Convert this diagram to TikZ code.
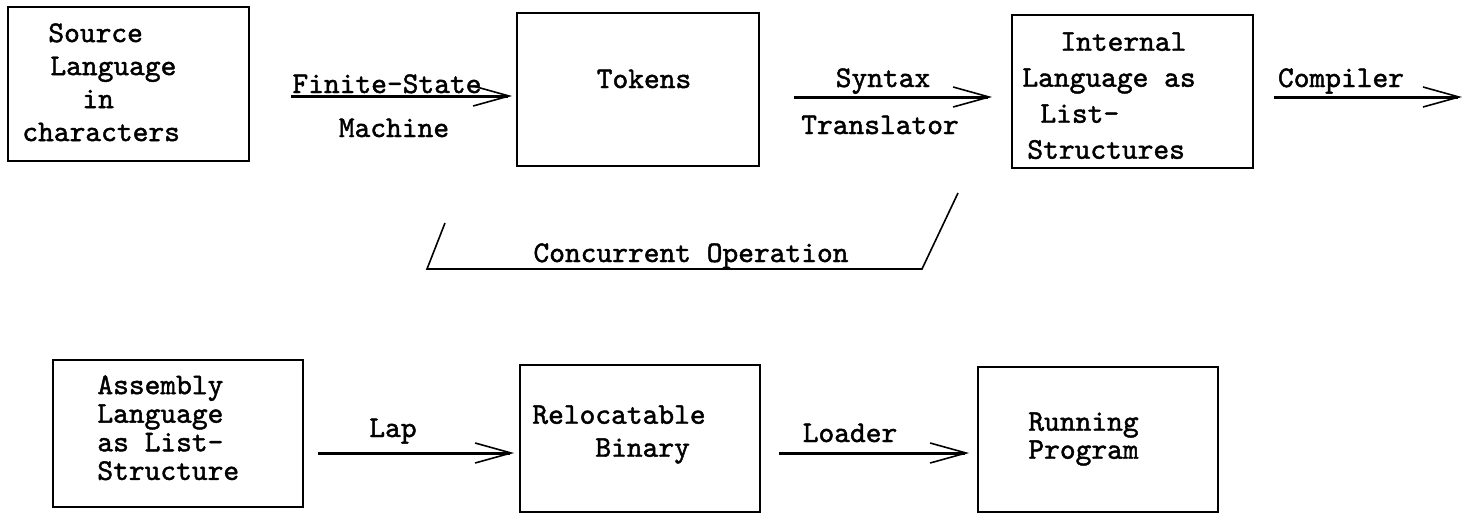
\documentclass[tikz,border=0pt]{standalone}
\usepackage{fontspec}
\usetikzlibrary{arrows.meta,calc}
% typewriter face, slightly heavier like a ribbon impression
\newfontfamily\typer{lmmono10-regular.otf}[FakeBold=1.5]
\begin{document}
\begin{tikzpicture}[x=0.5pt,y=-0.5pt,
  box/.style={draw,line width=0.9pt,inner sep=0pt},
  txt/.style={font=\fontsize{15}{#1}\selectfont\typer,inner sep=0pt,align=left},
  txt/.default=16.5pt,
  lbl/.style={font=\fontsize{15}{16.5}\selectfont\typer,inner sep=0pt,anchor=base},
  arr/.style={line width=1.5pt,-{Straight Barb[length=18pt,width=10pt,line width=0.8pt]}},
]
\useasboundingbox (0,0) rectangle (1473,515);

% upper row: source -> tokens -> internal language
\node[box,minimum width=120.5pt,minimum height=77pt] (src) at (128.5,84) {};
\node[txt,anchor=north west] (srct) at (22,23)
  {\hspace*{13pt}Source\\\hspace*{14pt}Language\\\hspace*{30pt}in\\characters};

\node[box,minimum width=121pt,minimum height=76.5pt] (tok) at (638,89.5) {};
\node[lbl] (tokt) at (644,88) {Tokens};

\node[box,minimum width=120.5pt,minimum height=76.5pt] (int) at (1132.5,91.5) {};
\node[txt=18pt,anchor=north west] (intt) at (1022,32)
  {\hspace*{19pt}Internal\\Language as\\\hspace*{9pt}List-\\\hspace*{2.5pt}Structures};

\coordinate (out) at (1462,97);

\draw[arr] ($(src.east)+(41,12)$) -- ($(tok.west)+(-4,6.5)$);
\draw[arr] ($(tok.east)+(34,7.5)$) -- ($(int.west)+(-19,5.5)$);
\draw[arr] ($(int.east)+(20,5.5)$) -- (out);

\node[lbl] (fs) at (387,93) {Finite-State};
\node[lbl] (mach) at (394,137) {Machine};
\node[lbl] (syn) at (883,87) {Syntax};
\node[lbl] (trans) at (880,134) {Translator};
\node[lbl] (comp) at (1341,87) {Compiler};

% bracket marking the concurrent operation
\node[lbl] (conc) at (691,262) {Concurrent Operation};
\draw[line width=0.8pt] (445,223) -- (427,269) -- (922,269) -- (958,193);

% lower row: assembly -> relocatable binary -> running program
\node[box,minimum width=125pt,minimum height=73.5pt] (asm) at (178,433.5) {};
\node[txt=14.3pt,anchor=north west] (asmt) at (97,375)
  {Assembly\\Language\\as List-\\Structure};

\node[box,minimum width=120pt,minimum height=73.5pt] (rel) at (640,438.5) {};
\node[txt=16.5pt,anchor=north west] (relt) at (532,405)
  {Relocatable\\\hspace*{31.5pt}Binary};

\node[box,minimum width=120pt,minimum height=72.5pt] (run) at (1098,439.5) {};
\node[txt=14pt,anchor=north west] (runt) at (1028,412)
  {Running\\Program};

\draw[arr] ($(asm.east)+(14,19.5)$) -- ($(rel.west)+(-5,14.5)$);
\draw[arr] ($(rel.east)+(18,14.5)$) -- ($(run.west)+(-8,13.5)$);

\node[lbl] (lap) at (393,437) {Lap};
\node[lbl] (load) at (850,442) {Loader};
\end{tikzpicture}
\end{document}
